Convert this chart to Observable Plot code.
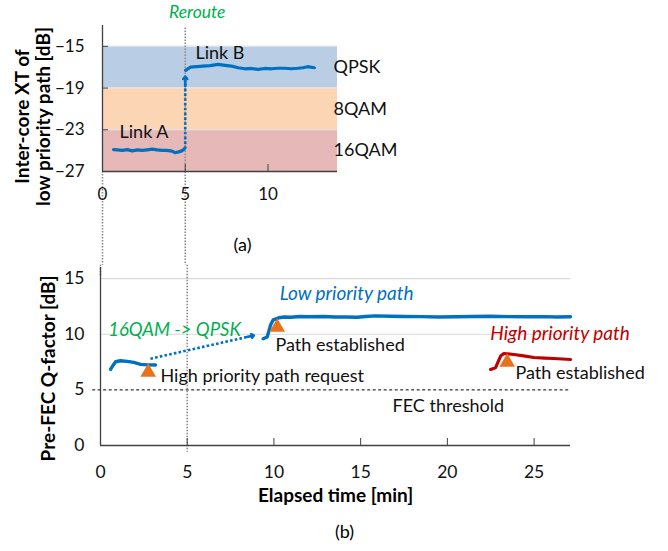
<!DOCTYPE html>
<html><head><meta charset="utf-8">
<script src="https://cdn.jsdelivr.net/npm/d3@7"></script>
<script src="https://cdn.jsdelivr.net/npm/@observablehq/plot@0.6"></script>
<style>
body{margin:0;background:#fff;}
#wrap{position:relative;width:668px;height:551px;font-family:Lato,sans-serif;overflow:hidden;}
#pa{position:absolute;left:0;top:0;}
#pb{position:absolute;left:0;top:265px;}
svg{overflow:visible;}
</style></head><body><div id="wrap"><div id="pa"></div><div id="pb"></div></div>
<script>
// ---------- Panel (a) data ----------
const bandNames = ["QPSK", "8QAM", "16QAM"];
const bandLow = [-19, -23, -27];
const bandHigh = [-15, -19, -23];
const linkA_t  = [0.67, 0.9, 1.2, 1.5, 1.8, 2.1, 2.4, 2.7, 3.0, 3.3, 3.6, 3.9, 4.2, 4.4, 4.6, 4.8, 4.95];
const linkA_xt = [-24.9, -24.92, -24.97, -24.9, -25.02, -24.93, -24.98, -24.92, -24.86, -24.93, -24.98, -24.97, -25.05, -25.2, -25.12, -25.02, -24.82];
const linkB_t  = [5.02, 5.3, 5.7, 6.06, 6.5, 7.0, 7.4, 7.8, 8.2, 8.6, 9.0, 9.4, 9.8, 10.2, 10.6, 11.0, 11.4, 11.8, 12.1, 12.4, 12.8];
const linkB_xt = [-17.3, -17.0, -16.95, -16.9, -16.85, -16.73, -16.82, -16.9, -17.05, -17.15, -17.12, -17.2, -17.12, -17.15, -17.1, -17.1, -17.15, -17.1, -17.05, -16.95, -17.05];
const rerouteT = 5;
const xaTicks = [0, 5, 10];
const yaTicks = [-27, -23, -19, -15];

// ---------- Panel (b) data ----------
const low1_t = [0.58, 0.67, 0.87, 1.15, 1.54, 1.92, 2.31, 2.7, 3.17];
const low1_q = [6.84, 7.08, 7.53, 7.62, 7.56, 7.47, 7.29, 7.25, 7.23];
const low2_t = [9.38, 9.61, 9.8, 9.96, 10.28, 10.6, 10.96, 11.5, 12.0, 12.88, 13.5, 14.2, 14.8, 15.3, 15.8, 16.72, 17.5, 18.5, 19.5, 20.5, 21.5, 22.5, 23.5, 24.5, 25.5, 26.3, 27.1];
const low2_q = [9.6, 9.75, 10.8, 11.3, 11.48, 11.55, 11.53, 11.6, 11.57, 11.6, 11.55, 11.55, 11.53, 11.6, 11.65, 11.62, 11.6, 11.58, 11.55, 11.57, 11.6, 11.62, 11.58, 11.57, 11.58, 11.55, 11.57];
const high_t = [22.49, 22.78, 23.07, 23.26, 23.84, 24.4, 24.99, 25.6, 26.14, 27.1];
const high_q = [6.84, 6.99, 8.04, 8.27, 8.18, 8.05, 7.91, 7.86, 7.82, 7.73];
const eventT = [2.75, 10.19, 23.45];
const eventQ = [6.59, 10.63, 7.49];
const modArrowT = [2.88, 8.84];
const modArrowQ = [7.8, 9.89];
const fecThreshold = 5;
const xbTicks = [0, 5, 10, 15, 20, 25];
const ybTicks = [0, 5, 10, 15];

// annotation labels
const labelsA = ["Link A", "Link B"];
const labelsAT = [1.03, 5.62];
const labelsAY = [-23.26, -15.69];
const rerouteLabel = "Reroute";
const rerouteLabelY = -11.7;
const seriesLabels = ["Low priority path", "High priority path"];
const seriesLabelT = [14.19, 26.5];
const seriesLabelQ = [13.66, 10.04];
const modLabel = "16QAM -> QPSK";
const modLabelT = 4.27, modLabelQ = 10.34;
const eventLabels = ["High priority path request", "Path established", "Path established", "FEC threshold"];
const eventLabelT = [3.46, 10.09, 23.93, 16.84];
const eventLabelQ = [6.2, 8.99, 6.5, 3.5];

// ---------- styles ----------
const BLUE = "#0070c0", RED = "#c00000", GREEN = "#00b050", ORANGE = "#e8711c", AXIS = "#404040";
const bandFill = ["#b9cde5", "#fcd5b5", "#e6b9b8"];
const FONT = "Lato, sans-serif";
const FS_TICK = 17, FS_ANN = 18, FS_IT = 18.5, FS_TITLE = 19, FS_CAP = 18;

const XA_MAX = 14.2, YA_MIN = -27, YA_MAX = -13;
const XB_MAX = 27.1, YB_MIN = 0, YB_MAX = 16;

const bands = bandNames.map((n, i) => ({name: n, lo: bandLow[i], hi: bandHigh[i], fill: bandFill[i], mid: (bandLow[i] + bandHigh[i]) / 2}));
const linkA = linkA_t.map((t, i) => ({t, v: linkA_xt[i]}));
const linkB = linkB_t.map((t, i) => ({t, v: linkB_xt[i]}));
const annA = labelsA.map((s, i) => ({s, t: labelsAT[i], v: labelsAY[i]}));

const plotA = Plot.plot({
  width: 668, height: 265,
  marginLeft: 102, marginRight: 668 - 337, marginTop: 25, marginBottom: 94,
  style: {fontFamily: FONT, fontSize: "17px", color: "#000", background: "transparent", overflow: "visible"},
  x: {domain: [0, XA_MAX]},
  y: {domain: [YA_MIN, YA_MAX]},
  marks: [
    Plot.rect(bands, {x1: 0, x2: XA_MAX, y1: "lo", y2: "hi", fill: "fill"}),
    Plot.ruleY(bandHigh, {x1: 0, x2: XA_MAX, stroke: "#e6e6e6", strokeWidth: 1}),
    // dotted guide lines
    Plot.ruleX([rerouteT], {y1: -13.25, y2: -36, stroke: "#8c8c8c", strokeWidth: 1.6, strokeDasharray: "1.5,1.5"}),
    Plot.ruleX([0], {y1: YA_MIN, y2: -36, stroke: "#8c8c8c", strokeWidth: 1.6, strokeDasharray: "1.5,1.5"}),
    // axes
    Plot.ruleX([0], {y1: YA_MIN, y2: YA_MAX, stroke: AXIS, strokeWidth: 1.3}),
    Plot.ruleY([YA_MIN], {x1: 0, x2: XA_MAX, stroke: AXIS, strokeWidth: 1.3}),
    Plot.axisY(yaTicks, {tickSize: 0, tickPadding: 18, label: null, fontSize: FS_TICK, fill: "#111"}),
    Plot.axisY(yaTicks, {tickSize: 6, dx: 6, tickFormat: () => "", label: null, stroke: AXIS}),
    Plot.axisX(xaTicks, {tickSize: 0, tickPadding: 16, label: null, fontSize: FS_TICK, fill: "#111"}),
    Plot.axisX(xaTicks, {tickSize: 7, dy: -7, tickFormat: () => "", label: null, stroke: AXIS}),
    // reroute arrow
    Plot.link([0], {x1: rerouteT, x2: rerouteT, y1: linkA_xt[linkA_xt.length - 1], y2: -18.3, stroke: BLUE, strokeWidth: 2.6, strokeDasharray: "2.6,2.2"}),
    Plot.arrow([0], {x1: rerouteT, x2: rerouteT, y1: -18.8, y2: -17.9, stroke: BLUE, strokeWidth: 2.6, headLength: 13, headAngle: 80}),
    // lines
    Plot.line(linkA, {x: "t", y: "v", stroke: BLUE, strokeWidth: 3.2}),
    Plot.line(linkB, {x: "t", y: "v", stroke: BLUE, strokeWidth: 3.2}),
    // labels
    Plot.text(bands, {x: XA_MAX, y: "mid", text: "name", textAnchor: "start", dx: -4, fill: "#111", fontSize: FS_ANN}),
    Plot.text(annA, {x: "t", y: "v", text: "s", textAnchor: "start", fill: "#111", fontSize: FS_ANN}),
    Plot.text([rerouteLabel], {x: rerouteT, y: rerouteLabelY, dx: 12, textAnchor: "middle", fill: GREEN, fontStyle: "italic", fontSize: 17.5}),
    Plot.text(["Inter-core XT of\nlow priority path [dB]"], {frameAnchor: "left", rotate: -90, dx: -69.5, dy: 18, fontWeight: "bold", lineHeight: 1.12, textAnchor: "middle", fill: "#000", fontSize: FS_TITLE}),
    Plot.text(["(a)"], {frameAnchor: "bottom", dx: 22.5, dy: 79, fill: "#000", fontSize: FS_CAP})
  ]
});
document.getElementById("pa").appendChild(plotA);

const low1 = low1_t.map((t, i) => ({t, v: low1_q[i]}));
const low2 = low2_t.map((t, i) => ({t, v: low2_q[i]}));
const high = high_t.map((t, i) => ({t, v: high_q[i]}));
const events = eventT.map((t, i) => ({t, v: eventQ[i]}));
const serAnn = seriesLabels.map((s, i) => ({s, t: seriesLabelT[i], v: seriesLabelQ[i], c: [BLUE, RED][i]}));
const evAnn = eventLabels.map((s, i) => ({s, t: eventLabelT[i], v: eventLabelQ[i]}));
const arrowTip = {t: modArrowT[1], v: modArrowQ[1]};
const arrowPre = {t: d3.interpolateNumber(modArrowT[0], modArrowT[1])(0.92), v: d3.interpolateNumber(modArrowQ[0], modArrowQ[1])(0.92)};

const plotB = Plot.plot({
  width: 668, height: 286,
  marginLeft: 100, marginRight: 98, marginTop: 2, marginBottom: 106,
  style: {fontFamily: FONT, fontSize: "17px", color: "#000", background: "transparent", overflow: "visible"},
  x: {domain: [0, XB_MAX]},
  y: {domain: [YB_MIN, YB_MAX]},
  marks: [
    Plot.ruleY([10, 15], {x1: 0, x2: XB_MAX, stroke: "#d9d9d9", strokeWidth: 1.2}),
    Plot.ruleY([fecThreshold], {x1: -0.45, x2: XB_MAX, stroke: "#000", strokeWidth: 1, strokeDasharray: "3,2.5"}),
    Plot.ruleX([rerouteT], {y1: 16.2, y2: -0.6, stroke: "#8c8c8c", strokeWidth: 1.6, strokeDasharray: "1.5,1.5"}),
    Plot.ruleX([0], {y1: 16.2, y2: 15.2, stroke: "#8c8c8c", strokeWidth: 1.6, strokeDasharray: "1.5,1.5"}),
    Plot.ruleX([0], {y1: YB_MIN, y2: YB_MAX, stroke: AXIS, strokeWidth: 1.3}),
    Plot.ruleY([YB_MIN], {x1: 0, x2: XB_MAX, stroke: AXIS, strokeWidth: 1.3}),
    Plot.axisY(ybTicks, {tickSize: 0, tickPadding: 16, label: null, fontSize: FS_TICK + 0.5, fill: "#111"}),
    Plot.axisX(xbTicks, {tickSize: 0, tickPadding: 20, label: null, fontSize: FS_TICK + 0.5, fill: "#111"}),
    Plot.axisX(xbTicks, {tickSize: 7, dy: -7, tickFormat: () => "", label: null, stroke: AXIS}),
    // modulation change arrow
    Plot.link([0], {x1: modArrowT[0], y1: modArrowQ[0], x2: arrowPre.t, y2: arrowPre.v, stroke: BLUE, strokeWidth: 2.6, strokeDasharray: "2.6,2.2"}),
    Plot.arrow([0], {x1: arrowPre.t, y1: arrowPre.v, x2: arrowTip.t, y2: arrowTip.v, stroke: BLUE, strokeWidth: 2.6, headLength: 13, headAngle: 80}),
    // lines
    Plot.line(low1, {x: "t", y: "v", stroke: BLUE, strokeWidth: 3.4}),
    Plot.line(low2, {x: "t", y: "v", stroke: BLUE, strokeWidth: 3.4}),
    Plot.line(high, {x: "t", y: "v", stroke: RED, strokeWidth: 3.2}),
    Plot.dot(events, {x: "t", y: "v", symbol: "triangle", r: 5.8, fill: ORANGE, stroke: "none"}),
    // labels
    Plot.text(serAnn, {x: "t", y: "v", text: "s", textAnchor: "middle", fill: "c", fontStyle: "italic", fontSize: FS_IT + 0.5}),
    Plot.text([modLabel], {x: modLabelT, y: modLabelQ, textAnchor: "middle", fill: GREEN, fontStyle: "italic", fontSize: FS_IT}),
    Plot.text(evAnn, {x: "t", y: "v", text: "s", textAnchor: "start", fill: "#111", fontSize: FS_ANN}),
    Plot.text(["Pre-FEC Q-factor [dB]"], {frameAnchor: "left", rotate: -90, dx: -52, dy: 12, fontWeight: "bold", textAnchor: "middle", fill: "#000", fontSize: FS_TITLE}),
    Plot.text(["Elapsed time [min]"], {frameAnchor: "bottom", dy: 56, fontWeight: "bold", fill: "#000", fontSize: FS_TITLE}),
    Plot.text(["(b)"], {frameAnchor: "bottom", dx: 9, dy: 92, fill: "#000", fontSize: FS_CAP})
  ]
});
document.getElementById("pb").appendChild(plotB);
</script></body></html>
